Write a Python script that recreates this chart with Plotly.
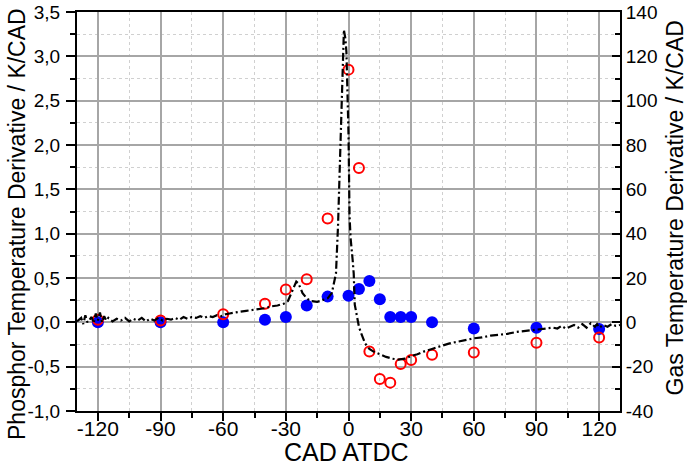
import plotly.graph_objects as go

# Black dash-dot curve (gas temperature derivative, right axis, K/CAD)
gas_cad = [-130, -128, -127, -126, -125, -124, -123, -122, -121, -120, -119, -118, -117, -116, -115,
           -113, -111, -109, -107, -105, -103, -101, -99, -97, -95, -93, -91, -89, -87, -85, -83, -81,
           -79, -77, -75, -73, -71, -69, -67, -65, -63, -61, -59, -57, -55, -52, -49, -46, -43, -40,
           -37, -34, -31, -29, -27, -25, -24, -22, -20, -18, -15, -12, -10, -8, -6, -5, -4.5, -4,
           -3.5, -3, -2.5, -2.2, -2, -1.5, -1, -0.5, 0, 0.5, 1, 2, 2.5, 3, 4, 5, 6, 8, 10, 12, 15,
           18, 21, 24, 27, 30, 33, 36, 40, 44, 48, 52, 56, 60, 64, 68, 72, 76, 80, 84, 88, 92, 95,
           98, 100, 102, 104, 106, 108, 110, 112, 114, 116, 118, 119, 120, 122, 124, 126, 128, 130]
gas_val = [0.4, 2, -0.8, 3.2, 0, 1.2, 2.4, -0.4, 4, 0.8, 4.4, 0, 2.8, 0.8, 2,
           0.4, 1.6, 0.8, 2, 0.4, 1.6, 0.8, 2, 0.4, 1.6, 0.8, 2, 0.8, 1.6, 1.2, 2, 1.2,
           2.4, 1.6, 2.4, 2, 2.8, 2, 2.8, 2.4, 3.2, 2.8, 3.6, 4, 4.4, 4.8, 5.2, 5.6, 6, 6.4,
           7.2, 7.6, 8.4, 9.6, 14, 18.4, 17.6, 13.2, 10.8, 9.6, 9.2, 10, 10.8, 13.2, 22, 44, 60, 80,
           100, 116, 128, 132, 130.8, 128, 122, 104, 85.2, 48, 38, 28, 22, 8, 2, -2, -4.8, -9.6, -12, -13.2, -14.4,
           -15.6, -16.4, -16.8, -16.4, -15.2, -14.4, -13.2, -12, -10.8, -9.6, -8.8, -8, -7.2, -6.8, -6, -5.6, -5.2, -4.4, -4, -3.6, -3.2, -2.8,
           -2.4, -2.8, -1.6, -2.8, -2, -1.2, -2.4, -0.8, -2.4, -0.4, -2, -0.8, -2.4, -1.2, -2, -0.8, -1.6, -1.2]

# Blue filled circles (phosphor, left axis)
blue_cad = [-120, -90, -60, -40, -30, -20, -10, 0, 5, 10, 15, 20, 25, 30, 40, 60, 90, 120]
blue_val = [0.0, 0.0, 0.0, 0.03, 0.06, 0.19, 0.29, 0.30, 0.375, 0.465, 0.26, 0.06, 0.06, 0.06, 0.0, -0.07, -0.06, -0.075]

# Red open circles (phosphor, left axis)
red_cad = [-120, -90, -60, -40, -30, -20, -10, 0, 5, 10, 15, 20, 25, 30, 40, 60, 90, 120]
red_val = [0.03, 0.02, 0.09, 0.21, 0.37, 0.485, 1.17, 2.85, 1.74, -0.33, -0.64, -0.68, -0.47, -0.425, -0.365, -0.34, -0.23, -0.17]

x_tickvals = [-120, -90, -60, -30, 0, 30, 60, 90, 120]
x_ticktext = ["-120", "-90", "-60", "-30", "0", "30", "60", "90", "120"]
y_tickvals = [-1.0, -0.5, 0.0, 0.5, 1.0, 1.5, 2.0, 2.5, 3.0, 3.5]
y_ticktext = ["-1,0", "-0,5", "0,0", "0,5", "1,0", "1,5", "2,0", "2,5", "3,0", "3,5"]
y2_tickvals = [-40, -20, 0, 20, 40, 60, 80, 100, 120, 140]
y2_ticktext = ["-40", "-20", "0", "20", "40", "60", "80", "100", "120", "140"]

x_title = "CAD ATDC"
y_title = "Phosphor Temperature Derivative / K/CAD"
y2_title = "Gas Temperature Derivative / K/CAD"

FONT = "Liberation Sans, Arial, sans-serif"
MAJ = "#a6a6a6"
MIN = "#d0d0d0"

fig = go.Figure()
fig.add_trace(go.Scatter(x=gas_cad, y=gas_val, mode="lines", yaxis="y2",
                         line=dict(color="black", width=2.2, dash="8px,3px,2px,3px"),
                         showlegend=False))
fig.add_trace(go.Scatter(x=blue_cad, y=blue_val, mode="markers",
                         marker=dict(color="#0000ff", size=12, line=dict(width=0)),
                         showlegend=False))
fig.add_trace(go.Scatter(x=red_cad, y=red_val, mode="markers",
                         marker=dict(symbol="circle-open", color="#ff0000", size=10,
                                     line=dict(width=2, color="#ff0000")),
                         showlegend=False))

fig.update_layout(
    width=687, height=468,
    margin=dict(l=77, r=67, t=12, b=57),
    paper_bgcolor="white", plot_bgcolor="white",
    font=dict(family=FONT, color="black"),
    xaxis=dict(range=[-130, 130], tickvals=x_tickvals, ticktext=x_ticktext,
               ticks="outside", ticklen=8, tickwidth=1.5, tickcolor="black",
               tickfont=dict(size=21), ticklabelstandoff=-10, ticklabeloverflow="allow",
               showline=True, linecolor="black", linewidth=2, mirror=True,
               showgrid=True, gridcolor=MAJ, gridwidth=1.5, zeroline=False,
               minor=dict(dtick=15, tick0=0, ticks="outside", ticklen=5, tickcolor="black",
                          showgrid=True, gridcolor=MIN, griddash="dot", gridwidth=1),
               automargin=False),
    yaxis=dict(range=[-1, 3.5], tickvals=y_tickvals, ticktext=y_ticktext,
               ticks="outside", ticklen=9, tickwidth=1.5, tickcolor="black",
               tickfont=dict(size=19), ticklabelstandoff=2, ticklabeloverflow="allow",
               showline=True, linecolor="black", linewidth=2,
               showgrid=True, gridcolor=MAJ, gridwidth=1.5, zeroline=False,
               minor=dict(dtick=0.25, tick0=0, ticks="outside", ticklen=5, tickcolor="black",
                          showgrid=True, gridcolor=MIN, griddash="dot", gridwidth=1),
               automargin=False),
    yaxis2=dict(range=[-40, 140], overlaying="y", side="right",
                tickvals=y2_tickvals, ticktext=y2_ticktext,
                ticks="inside", ticklen=8, tickwidth=1.5, tickcolor="black",
                tickfont=dict(size=19), ticklabeloverflow="allow",
                showline=True, linecolor="black", linewidth=2,
                showgrid=False, zeroline=False,
                minor=dict(dtick=10, tick0=0, ticks="inside", ticklen=5, tickcolor="black", showgrid=False),
                automargin=False),
    annotations=[
        dict(text=x_title, xref="paper", yref="paper", x=0.497, y=-0.1028,
             xanchor="center", yanchor="middle", showarrow=False, font=dict(size=25)),
        dict(text=y_title, xref="paper", yref="paper", x=-0.1105, y=0.4687, textangle=-90,
             xanchor="center", yanchor="middle", showarrow=False, font=dict(size=23)),
        dict(text=y2_title, xref="paper", yref="paper", x=1.1013, y=0.5075, textangle=-90,
             xanchor="center", yanchor="middle", showarrow=False, font=dict(size=23)),
    ],
)

# Remove the browser's default 8px body margin so the 687x468 figure fills the window.
fig.write_html("out.html", config={"displayModeBar": False},
               post_script="document.body.style.margin='0';")
